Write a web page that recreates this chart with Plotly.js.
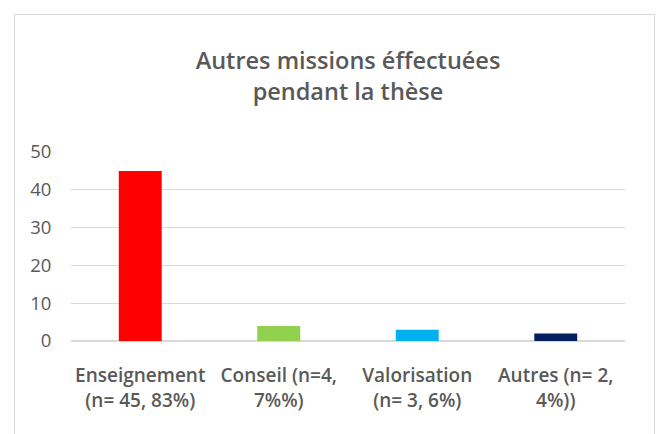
<!DOCTYPE html>
<html>
<head>
<meta charset="utf-8">
<script src="https://cdn.plot.ly/plotly-3.0.1.min.js"></script>
<style>
  html, body { margin: 0; padding: 0; background: #ffffff; }
  #wrap { position: relative; width: 661px; height: 434px; overflow: hidden; }
  #chart { width: 661px; height: 434px; }
  #frame { position: absolute; left: 14px; top: 14px; width: 641px; height: 440px;
           border: 1.5px solid #d9d9d9; pointer-events: none; box-sizing: border-box; }
</style>
</head>
<body>
<div id="wrap">
  <div id="chart"></div>
  <div id="frame"></div>
</div>
<script>
const categories = [
  "Enseignement<br>(n= 45, 83%)",
  "Conseil (n=4,<br>7%%)",
  "Valorisation<br>(n= 3, 6%)",
  "Autres (n= 2,<br>4%))"
];
const values = [45, 4, 3, 2];
const barColors = ["#ff0000", "#92d050", "#00b0f0", "#002060"];
const yTicks = [0, 10, 20, 30, 40, 50];
const titleText = "Autres missions éffectuées<br>pendant la thèse";

const fontFamily = "'Open Sans', Lato, 'Liberation Sans', sans-serif";
const textColor = "#595959";

Plotly.newPlot("chart", [{
  type: "bar",
  x: categories,
  y: values,
  marker: { color: barColors, line: { width: 0 } },
  hoverinfo: "skip"
}], {
  width: 661,
  height: 434,
  margin: { l: 71, r: 36, t: 152, b: 93, pad: 0 },
  paper_bgcolor: "#ffffff",
  plot_bgcolor: "#ffffff",
  showlegend: false,
  bargap: 0.69,
  title: {
    text: titleText,
    font: { family: fontFamily, size: 23.5, color: textColor, weight: 600 },
    x: 0.5, xanchor: "center",
    xref: "paper",
    y: 0.84, yanchor: "top", yref: "container"
  },
  xaxis: {
    type: "category",
    tickfont: { family: fontFamily, size: 19, color: textColor, weight: 600 },
    ticks: "outside", ticklen: 17, tickcolor: "rgba(0,0,0,0)",
    showgrid: false, showline: false, zeroline: false,
    fixedrange: true
  },
  yaxis: {
    range: [0, 50],
    tickvals: yTicks,
    ticktext: yTicks.map(String),
    tickfont: { family: fontFamily, size: 18.5, color: textColor },
    ticks: "outside", ticklen: 15, tickcolor: "rgba(0,0,0,0)",
    showgrid: true, gridcolor: "#d9d9d9", gridwidth: 1.3,
    zeroline: true, zerolinecolor: "#d9d9d9", zerolinewidth: 1.3,
    showline: false,
    fixedrange: true
  }
}, { displayModeBar: false, staticPlot: true });
</script>
</body>
</html>
